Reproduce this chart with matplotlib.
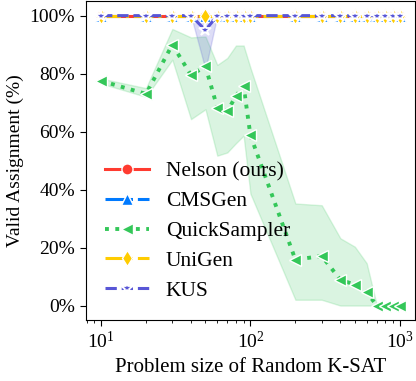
import numpy as np
import matplotlib
matplotlib.use("Agg")
import matplotlib.pyplot as plt
from matplotlib.ticker import PercentFormatter

plt.rcParams.update({'font.family': 'serif', 'font.serif': ['Liberation Serif'],
                     'mathtext.fontset': 'custom', 'mathtext.rm': 'Liberation Serif',
                     'font.size': 14,
                     'xtick.major.size': 4.5, 'ytick.major.size': 4.5,
                     'xtick.minor.size': 2.5})

sizes = [10, 20, 30, 40, 50, 60, 70, 80, 90, 100, 200, 300, 400, 500, 600, 700, 800, 900, 1000]
nelson = [100] * 19
cmsgen = [100] * 19
quick = [77.5, 73, 90, 79.5, 82.5, 68.3, 67, 72.3, 75.7, 58.7, 15.8, 17.1, 8.9, 7.2, 4.7, 0, 0, 0, 0]
quick_lo = [76.6, 72, 84.8, 64.3, 67.7, 51.7, 52.8, 56, 58.6, 38.6, 2, 2, 0, 0, 0, 0, 0, 0, 0]
quick_hi = [78.3, 75, 95.4, 92.5, 92.8, 83, 85.4, 89.7, 89.7, 82, 35.2, 34.6, 23.2, 20.3, 14.6, 0.3, 0, 0, 0]
unigen = [100] * 19
kus = [100, 100, 100, 100, 95, 100, 100, 100, 100, 100, 100, 100, 100, 100, 100, 100, 100, 100, 100]
kus_std = [0, 0, 0, 0, 13.5, 0, 0, 0, 0, 0, 0, 0, 0, 0, 0, 0, 0, 0, 0]

c_red = '#ff3b30'
c_blue = '#007aff'
c_green = '#34c759'
c_yellow = '#ffcc00'
c_purple = '#5856d6'

fig, ax = plt.subplots(figsize=(4.16, 3.81), dpi=100)
fig.subplots_adjust(left=0.207, right=0.997, top=0.997, bottom=0.16)

kw = dict(lw=2.2, ms=8, mec='white', mew=1)
ax.plot(sizes, nelson, '-', marker='o', color=c_red, label='Nelson (ours)', **kw)
ax.plot(sizes, cmsgen, '-.', marker='^', color=c_blue, label='CMSGen', **kw)
ax.fill_between(sizes, quick_lo, quick_hi, color=c_green, alpha=0.18, lw=1)
ax.plot(sizes, quick, ':', marker='<', color=c_green, label='QuickSampler',
        lw=2.8, ms=9, mec='white', mew=1)
ax.plot(sizes, unigen, '-.', marker='d', color=c_yellow, label='UniGen', **kw)
kus = np.array(kus)
kus_std = np.array(kus_std)
ax.fill_between(sizes, kus - kus_std, np.minimum(kus + kus_std, 100), color=c_purple, alpha=0.2, lw=1)
ax.plot(sizes, kus, '--', marker='*', color=c_purple, label='KUS',
        lw=2.2, ms=9, mec='white', mew=1.3)

ax.set_xscale('log')
ax.set_ylim(-5, 105)
ax.yaxis.set_major_formatter(PercentFormatter(decimals=0))
ax.set_xlabel('Problem size of Random K-SAT', fontsize=15)
ax.set_ylabel('Valid Assignment (%)', fontsize=14)
ax.legend(loc='lower left', frameon=False, fontsize=15.5, handlelength=2.0,
          borderaxespad=0.5, labelspacing=0.45)

plt.savefig('out.png')
